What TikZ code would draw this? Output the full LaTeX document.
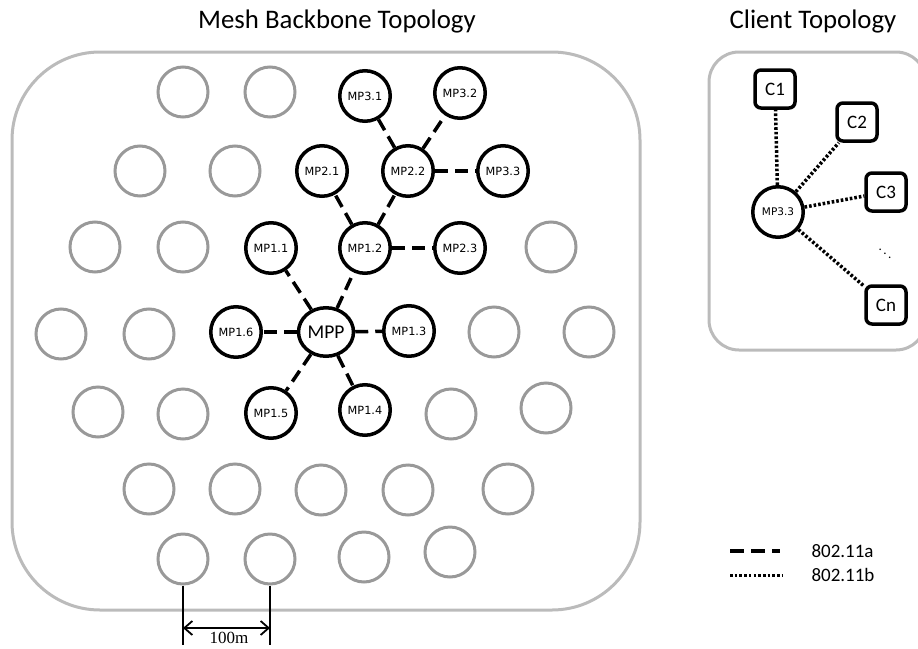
\documentclass[tikz,border=0pt]{standalone}
\usepackage{fontspec}
\setmainfont{Carlito}
\newfontfamily\scalefont{Liberation Serif}
\newfontfamily\labelfont{DejaVu Sans}
\usetikzlibrary{shapes.geometric,arrows.meta}
\definecolor{graycirc}{HTML}{999999}
\definecolor{grayframe}{HTML}{BBBBBB}
\begin{document}
\begin{tikzpicture}[x=1pt,y=-1pt,
  gnode/.style={circle,draw=graycirc,line width=3pt,minimum size=50pt,inner sep=0pt},
  mpnode/.style={circle,draw=black,line width=3.5pt,minimum size=50.5pt,inner sep=0pt,font=\labelfont\fontsize{11.3}{12}\selectfont},
  mppnode/.style={ellipse,draw=black,line width=3.5pt,minimum width=55pt,minimum height=48.5pt,inner sep=0pt,font=\fontsize{19.5}{20}\selectfont},
  cbox/.style={rectangle,rounded corners=6pt,draw=black,line width=3.5pt,minimum width=40pt,minimum height=38pt,inner sep=0pt,font=\fontsize{19}{20}\selectfont},
  frame/.style={draw=grayframe,line width=3pt},
  titletext/.style={font=\fontsize{26.8}{28}\selectfont,anchor=base},
  legtext/.style={font=\fontsize{19}{20}\selectfont,anchor=west},
  linka/.style={line width=3.5pt,dash pattern=on 13pt off 7pt},
  linkb/.style={line width=3.5pt,dash pattern=on 2.6pt off 2pt},
]
\useasboundingbox (0,0) rectangle (918,648);
% frames
\draw[frame,rounded corners=88pt] (12,52) rectangle (640,610);
\draw[frame,rounded corners=30pt] (709,52) rectangle (926,350);
% titles
\node[titletext] (t1) at (337,28) {Mesh Backbone Topology};
\node[titletext] (t2) at (813,28) {Client Topology};
% gray circles
\foreach \n/\x/\y in {g11/183/92,g12/270/92,
  g21/140/171,g22/235/171,
  g31/95/247,g32/183/247,g33/551/247,
  g41/61/334,g42/149/334,g43/494/332,g44/589/332,
  g51/98/412,g52/183/414,g53/451/414,g54/546/408,
  g61/149/489,g62/235/489,g63/321/490,g64/408/490,g65/508/489,
  g71/183/559,g72/270/559,g73/364/557,g74/450/552}
  \node[gnode] (\n) at (\x,\y) {};
% mesh points
\node[mppnode] (mpp) at (326,332) {MPP};
\node[mpnode] (m11) at (271,248) {MP1.1};
\node[mpnode] (m12) at (365,248) {MP1.2};
\node[mpnode] (m13) at (409,331) {MP1.3};
\node[mpnode] (m14) at (365,410) {MP1.4};
\node[mpnode] (m15) at (271,413) {MP1.5};
\node[mpnode] (m16) at (236,332) {MP1.6};
\node[mpnode] (m21) at (322,171) {MP2.1};
\node[mpnode] (m22) at (408,171) {MP2.2};
\node[mpnode] (m23) at (460,248) {MP2.3};
\node[mpnode] (m31) at (365,96) {MP3.1};
\node[mpnode] (m32) at (460,93) {MP3.2};
\node[mpnode] (m33) at (503,171) {MP3.3};
% 802.11a links
\foreach \a/\b in {mpp/m11,mpp/m12,mpp/m13,mpp/m14,mpp/m15,mpp/m16,
  m12/m21,m12/m22,m12/m23,m22/m31,m22/m32,m22/m33}
  \draw[linka] (\a) -- (\b);
% client topology
\node[mpnode,font=\labelfont\fontsize{10.5}{11}\selectfont] (c33) at (778,212) {MP3.3};
\node[cbox] (c1) at (775,89) {C1};
\node[cbox] (c2) at (857,122) {C2};
\node[cbox] (c3) at (886,192) {C3};
\node[cbox] (cn) at (886,305) {Cn};
\node[scale=1.3] (dots) at (885,250) {$\ddots$};
\foreach \b in {c1,c2,c3,cn}
  \draw[linkb] (c33) -- (\b);
% legend
\coordinate (la1) at (730,551);
\coordinate (la2) at (780,551);
\coordinate (lb1) at (730,575);
\coordinate (lb2) at (782,575);
\draw[linka,dash pattern=on 14pt off 7pt] (la1) -- (la2);
\draw[linkb,line width=3pt,dash pattern=on 2.6pt off 2.1pt] (lb1) -- (lb2);
\node[legtext] (lta) at (808,551) {802.11a};
\node[legtext] (ltb) at (808,575) {802.11b};
% scale bar
\coordinate (s1) at (183,645);
\coordinate (s2) at (270,645);
\coordinate (a1) at (183,628);
\coordinate (a2) at (270,628);
\draw[line width=1.8pt] (g71.south) -- (s1);
\draw[line width=1.8pt] (g72.south) -- (s2);
\draw[line width=1.8pt,{Straight Barb[length=8pt,width=14pt]}-{Straight Barb[length=8pt,width=14pt]}] (a1) -- (a2);
\node[font=\scalefont\fontsize{17}{17}\selectfont,anchor=base,inner sep=1pt] (lbl) at (229,643) {100m};
\end{tikzpicture}
\end{document}
